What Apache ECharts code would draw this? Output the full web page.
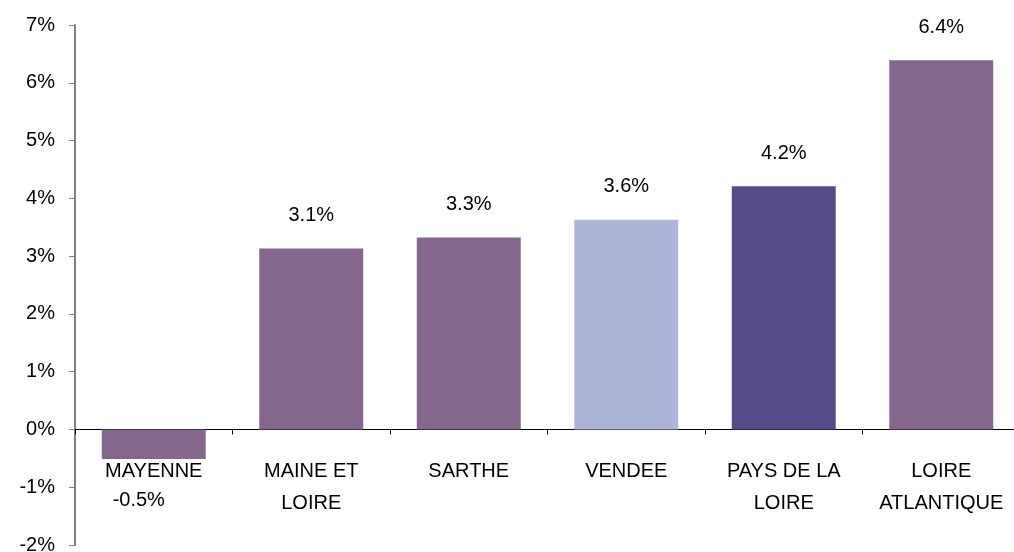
<!DOCTYPE html>
<html>
<head>
<meta charset="utf-8">
<script src="https://cdn.jsdelivr.net/npm/echarts@6/dist/echarts.min.js"></script>
<style>
  html, body { margin: 0; padding: 0; background: #fff; }
  #chart { width: 1014px; height: 552px; }
</style>
</head>
<body>
<div id="chart"></div>
<script>
const categories = ['MAYENNE', 'MAINE ET\nLOIRE', 'SARTHE', 'VENDEE', 'PAYS DE LA\nLOIRE', 'LOIRE\nATLANTIQUE']
const values = [-0.51, 3.13, 3.32, 3.63, 4.21, 6.39]
const labels = ['-0.5%', '3.1%', '3.3%', '3.6%', '4.2%', '6.4%']
const barColors = ['#83678d', '#83678d', '#83678d', '#aeb4da', '#544b87', '#83678d']

const yMin = -2
const yMax = 7

const font = 'Liberation Sans, Arial, sans-serif'
const gridHeight = 520

const chart = echarts.init(document.getElementById('chart'))

chart.setOption({
  animation: false,
  grid: {
    left: 75,
    top: 25,
    width: 945,
    height: gridHeight,
    containLabel: false,
    outerBoundsMode: 'none'
  },
  xAxis: {
    type: 'category',
    data: categories,
    // put the axis on the zero line (labels too)
    offset: -gridHeight * (0 - yMin) / (yMax - yMin),
    axisLine: { onZero: false, lineStyle: { color: '#000', width: 1 } },
    axisTick: { show: true, length: 5, lineStyle: { color: '#000' } },
    axisLabel: {
      interval: 0,
      margin: 26,
      color: '#000',
      fontFamily: font,
      fontSize: 20,
      lineHeight: 32,
      hideOverlap: false
    }
  },
  yAxis: {
    type: 'value',
    min: yMin,
    max: yMax,
    interval: 1,
    splitLine: { show: false },
    axisLine: { show: true, lineStyle: { color: '#808080', width: 2 } },
    axisTick: { show: true, length: 6, lineStyle: { color: '#808080', width: 1 } },
    axisLabel: {
      formatter: '{value}%',
      margin: 20,
      color: '#000',
      fontFamily: font,
      fontSize: 20
    }
  },
  series: [{
    type: 'bar',
    barWidth: '66%',
    data: values.map((v, i) => {
      const item = { value: v, itemStyle: { color: barColors[i] } }
      if (v < 0) {
        item.label = { position: 'bottom', distance: 32, offset: [-15, 0] }
      }
      return item
    }),
    label: {
      show: true,
      position: 'top',
      distance: 23,
      color: '#000',
      fontFamily: font,
      fontSize: 20,
      formatter: p => labels[p.dataIndex]
    }
  }]
})
</script>
</body>
</html>
